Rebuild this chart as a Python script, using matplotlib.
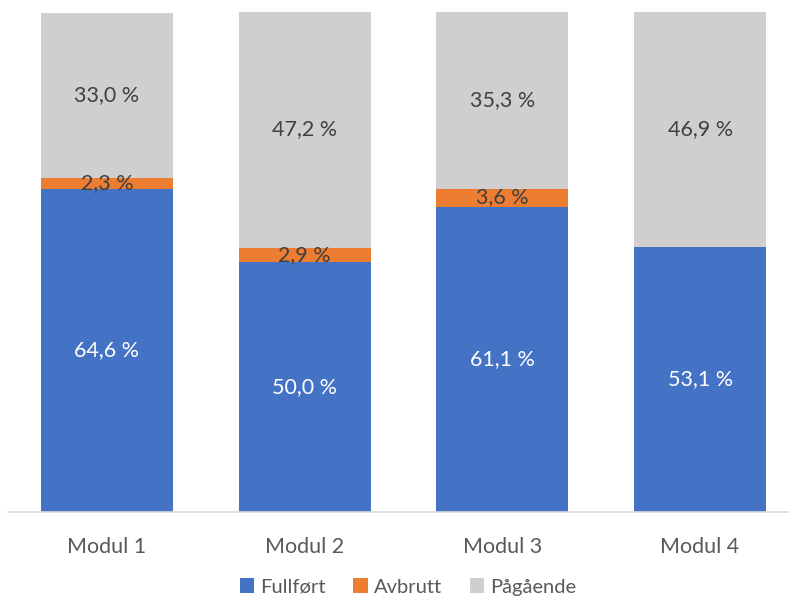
import numpy as np
import matplotlib.pyplot as plt

plt.rcParams['font.family'] = ['Lato', 'DejaVu Sans']

moduler = ["Modul 1", "Modul 2", "Modul 3", "Modul 4"]
fullfort = [64.6, 50.0, 61.1, 53.1]
avbrutt = [2.3, 2.9, 3.6, 0.0]
pagaende = [33.0, 47.2, 35.3, 46.9]

serier = [("Fullført", fullfort, "#4472C4", "white"),
          ("Avbrutt", avbrutt, "#ED7D31", "#404040"),
          ("Pågående", pagaende, "#D0CECE", "#404040")]

fig = plt.figure(figsize=(7.89, 5.99), dpi=100)
# aksen går litt utenfor høyre kant
ax = fig.add_axes([8 / 789, 87 / 599, 791 / 789, 500 / 599])

x = np.arange(len(moduler))
bunn = np.zeros(len(moduler))
for navn, verdier, farge, tekstfarge in serier:
    v = np.array(verdier)
    ax.bar(x, v, 0.667, bottom=bunn, color=farge, label=navn, zorder=2)
    for xi, b, vi in zip(x, bunn, v):
        if vi > 0:
            ax.text(xi, b + vi / 2, f"{vi:.1f} %".replace(".", ","),
                    ha="center", va="center", color=tekstfarge, fontsize=15.5)
    bunn += v

ax.set_xlim(-0.5, len(moduler) - 0.5)
ax.set_ylim(0, 100)
ax.set_xticks(x)
ax.set_xticklabels(moduler, fontsize=15.5, color="#595959")
ax.tick_params(axis="x", length=0, pad=18)
ax.set_yticks([])
for s in ["top", "right", "left"]:
    ax.spines[s].set_visible(False)
ax.spines["bottom"].set_color("#D9D9D9")
ax.spines["bottom"].set_linewidth(1.2)

fig.legend(loc="center", bbox_to_anchor=(0.517, 0.02), ncol=3, frameon=False,
           fontsize=14.5, labelcolor="#595959", handlelength=0.7, handleheight=0.7,
           handletextpad=0.3, columnspacing=1.4, borderpad=0.1)

fig.savefig("out.png", dpi=100)
